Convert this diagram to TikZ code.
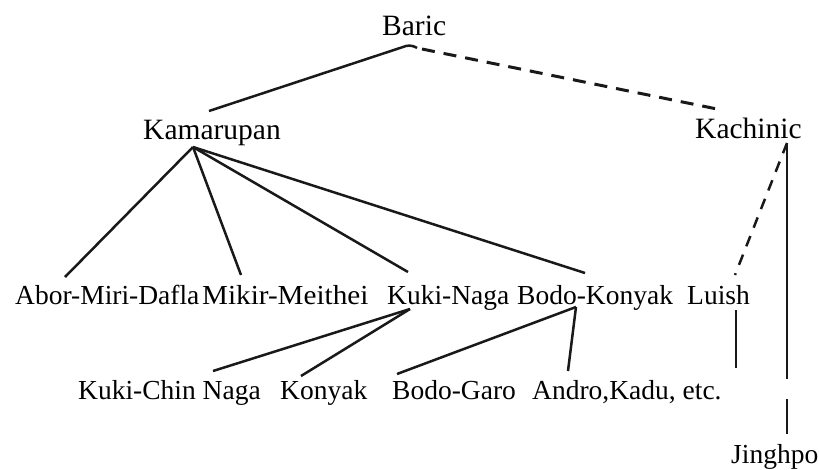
\documentclass[tikz,border=0pt]{standalone}
\usepackage{fontspec}
\setmainfont{Liberation Serif}
\newfontfamily\widerserif[FakeStretch=1.06]{Liberation Serif}
\begin{document}
\begin{tikzpicture}[x=1pt,y=-1pt,
  big/.style={inner sep=0pt,anchor=base west,font=\fontsize{29.5}{32}\selectfont},
  lab/.style={inner sep=0pt,anchor=base west,font=\fontsize{27.5}{30}\selectfont},
  edge/.style={line width=2.5pt,draw=black!90},
  dedge/.style={line width=3pt,draw=black!90,dash pattern=on 13pt off 9pt},
  dedgev/.style={line width=2.5pt,draw=black!90,dash pattern=on 11pt off 9pt}]
\useasboundingbox (0,0) rectangle (819,469);
% nodes
\node[big] (baric) at (382,35) {Baric};
\node[big] (kam) at (143,139) {Kamarupan};
\node[big] (kach) at (695,138) {Kachinic};
\node[lab] (abor) at (15,304) {Abor-Miri-Dafla};
\node[lab,font=\fontsize{27.5}{30}\widerserif] (mikir) at (202,304) {Mikir-Meithei};
\node[lab] (kuki) at (387,304) {Kuki-Naga};
\node[lab] (bodo) at (517,304) {Bodo-Konyak};
\node[lab] (luish) at (687,304) {Luish};
\node[lab] (kchin) at (78,399) {Kuki-Chin Naga};
\node[lab] (konyak) at (280,399) {Konyak};
\node[lab] (garo) at (392,399) {Bodo-Garo};
\node[lab] (andro) at (532,399) {Andro,Kadu, etc.};
\node[lab] (jing) at (731,463) {Jinghpo};
% Baric
\draw[edge] ([shift={(66,-28)}]kam.base west) -- ([shift={(24,11)}]baric.base west)
  .. controls ([shift={(28,10)}]baric.base west) and ([shift={(32,11)}]baric.base west) .. ([shift={(35,13)}]baric.base west);
\draw[dedge] ([shift={(40,14)}]baric.base west) -- ([shift={(22,-29)}]kach.base west);
% Kamarupan
\coordinate (kamB) at ([shift={(50,8)}]kam.base west);
\draw[edge] (kamB) -- ([shift={(50,-27)}]abor.base west);
\draw[edge] (kamB) -- ([shift={(39,-29)}]mikir.base west);
\draw[edge] (kamB) -- ([shift={(21,-32)}]kuki.base west);
\draw[edge] (kamB) -- ([shift={(68,-31)}]bodo.base west);
% Kuki-Naga
\coordinate (kukiB) at ([shift={(23,5)}]kuki.base west);
\draw[edge] (kukiB) -- ([shift={(135,-28)}]kchin.base west);
\draw[edge] (kukiB) -- ([shift={(21,-23)}]konyak.base west);
% Bodo-Konyak
\coordinate (bodoB) at ([shift={(59,3)}]bodo.base west);
\draw[edge] (bodoB) -- ([shift={(5,-25)}]garo.base west);
\draw[edge] (bodoB) -- ([shift={(36,-28)}]andro.base west);
% Luish
\coordinate (luishEnd) at ([shift={(49,64)}]luish.base west);
\draw[edge] ([shift={(49,6)}]luish.base west) -- (luishEnd);
% Kachinic
\coordinate (kachB) at ([shift={(92,5)}]kach.base west);
\coordinate (kachEnd) at ([shift={(56,-84)}]jing.base west);
\draw[dedgev] (kachB) -- ([shift={(48,-29)}]luish.base west);
\draw[edge] (kachB) -- (kachEnd);
\draw[edge] ([shift={(56,-64)}]jing.base west) -- ([shift={(56,-29)}]jing.base west);
\end{tikzpicture}
\end{document}
